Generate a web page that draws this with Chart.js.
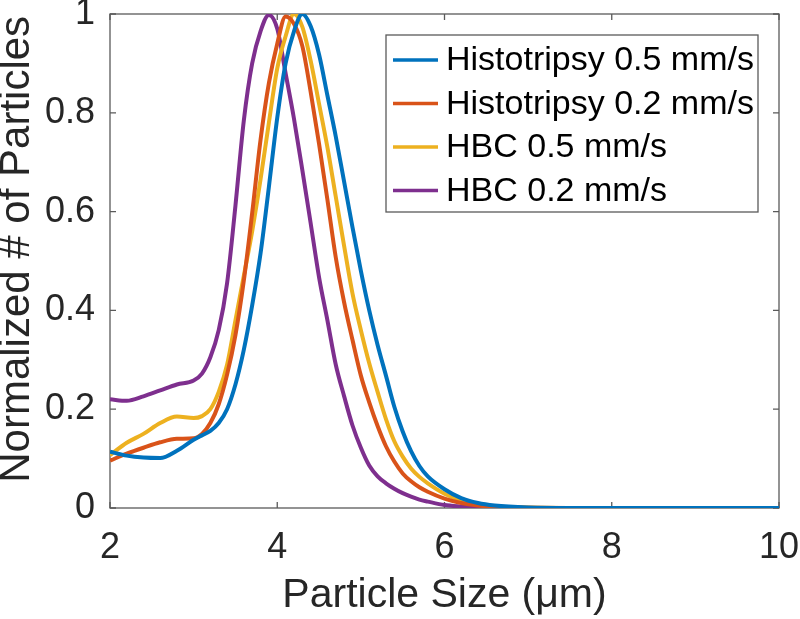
<!DOCTYPE html>
<html>
<head>
<meta charset="utf-8">
<script src="https://cdn.jsdelivr.net/npm/chart.js@4"></script>
<style>
  html, body { margin: 0; padding: 0; background: #ffffff; }
  #wrap { width: 800px; height: 619px; }
</style>
</head>
<body>
<div id="wrap"><canvas id="c" width="800" height="619"></canvas></div>
<script>
// ---------------- data ----------------
const sizes = [2.0,2.2,2.4,2.6,2.8,3.0,3.1,3.2,3.3,3.4,3.5,3.6,3.7,3.8,3.9,4.0,4.1,4.2,4.3,4.4,4.5,4.6,4.7,4.8,4.9,5.0,5.1,5.2,5.3,5.4,5.5,5.6,5.7,5.8,6.0,6.2,6.4,6.6,7.0,7.5,8.0,9.0,10.0];

const histo05 = [0.114,0.106,0.102,0.101,0.116,0.138,0.147,0.156,0.172,0.200,0.250,0.320,0.410,0.515,0.650,0.790,0.900,0.965,1.000,0.975,0.918,0.835,0.752,0.660,0.568,0.480,0.400,0.330,0.268,0.205,0.155,0.115,0.085,0.064,0.038,0.020,0.010,0.005,0.001,0,0,0,0];
const histo02 = [0.096,0.110,0.122,0.133,0.140,0.141,0.150,0.172,0.210,0.270,0.350,0.460,0.597,0.745,0.860,0.940,0.995,0.980,0.935,0.842,0.737,0.624,0.507,0.416,0.340,0.268,0.214,0.166,0.125,0.094,0.070,0.054,0.042,0.033,0.019,0.010,0.005,0.002,0.0005,0,0,0,0];
const hbc05   = [0.107,0.132,0.150,0.172,0.185,0.182,0.186,0.200,0.235,0.290,0.380,0.470,0.560,0.665,0.780,0.890,0.955,1.000,0.974,0.905,0.818,0.730,0.630,0.530,0.434,0.360,0.293,0.235,0.180,0.135,0.104,0.080,0.063,0.050,0.029,0.015,0.007,0.003,0.001,0,0,0,0];
const hbc02   = [0.220,0.217,0.226,0.238,0.250,0.258,0.272,0.305,0.360,0.455,0.612,0.784,0.900,0.965,0.998,0.970,0.880,0.788,0.684,0.576,0.467,0.380,0.290,0.226,0.167,0.122,0.086,0.064,0.050,0.039,0.030,0.023,0.017,0.013,0.006,0.003,0.001,0,0,0,0,0,0];

const seriesNames = ['Histotripsy 0.5 mm/s','Histotripsy 0.2 mm/s','HBC 0.5 mm/s','HBC 0.2 mm/s'];
const xTickValues = [2, 4, 6, 8, 10];
const yTickValues = [0, 0.2, 0.4, 0.6, 0.8, 1];
const yTickLabels = ['0', '0.2', '0.4', '0.6', '0.8', '1'];
const xTitle = 'Particle Size (\u03BCm)';
const yTitle = 'Normalized # of Particles';

// ---------------- styles ----------------
const COLORS = ['#0072BD', '#D95319', '#EDB120', '#7E2F8E'];
const FONT = 'Arial, "Liberation Sans", Helvetica, sans-serif';
const AXIS_COLOR = '#5a5a5a';
const TEXT_COLOR = '#262626';
const TICK_LEN = 6;

const toPoints = (ys) => sizes.map((x, i) => ({ x: x, y: ys[i] }));
const allSeries = [histo05, histo02, hbc05, hbc02];

const datasets = allSeries.map((ys, i) => ({
  label: seriesNames[i],
  data: toPoints(ys),
  borderColor: COLORS[i],
  backgroundColor: COLORS[i],
  borderWidth: 4,
  pointRadius: 0,
  fill: false,
  cubicInterpolationMode: 'monotone'
}));

// box + inward ticks (MATLAB style), drawn below the data lines
const matlabAxes = {
  id: 'matlabAxes',
  beforeDatasetsDraw(chart) {
    const { ctx, chartArea: a, scales: { x, y } } = chart;
    ctx.save();
    ctx.strokeStyle = AXIS_COLOR;
    ctx.lineWidth = 1.3;
    ctx.strokeRect(a.left, a.top, a.right - a.left, a.bottom - a.top);
    ctx.beginPath();
    xTickValues.forEach(v => {
      const px = x.getPixelForValue(v);
      ctx.moveTo(px, a.bottom); ctx.lineTo(px, a.bottom - TICK_LEN);
      ctx.moveTo(px, a.top); ctx.lineTo(px, a.top + TICK_LEN);
    });
    yTickValues.forEach(v => {
      const py = y.getPixelForValue(v);
      ctx.moveTo(a.left, py); ctx.lineTo(a.left + TICK_LEN, py);
      ctx.moveTo(a.right, py); ctx.lineTo(a.right - TICK_LEN, py);
    });
    ctx.stroke();
    ctx.restore();
  }
};

// MATLAB-like boxed legend in the upper right of the axes
const boxLegend = {
  id: 'boxLegend',
  afterDraw(chart) {
    const { ctx, chartArea: a } = chart;
    const boxW = 372, boxH = 177;
    const bx = a.right - 21 - boxW;
    const by = a.top + 21;
    ctx.save();
    ctx.fillStyle = '#ffffff';
    ctx.fillRect(bx, by, boxW, boxH);
    ctx.strokeStyle = AXIS_COLOR;
    ctx.lineWidth = 1.3;
    ctx.strokeRect(bx, by, boxW, boxH);
    ctx.font = '34px ' + FONT;
    ctx.textBaseline = 'middle';
    ctx.textAlign = 'left';
    chart.data.datasets.forEach((ds, i) => {
      const cy = by + 25 + i * 43.5;
      ctx.strokeStyle = ds.borderColor;
      ctx.lineWidth = 3.5;
      ctx.beginPath();
      ctx.moveTo(bx + 7, cy);
      ctx.lineTo(bx + 52, cy);
      ctx.stroke();
      ctx.fillStyle = '#000000';
      ctx.fillText(ds.label, bx + 60, cy + 1);
    });
    ctx.restore();
  }
};

new Chart(document.getElementById('c'), {
  type: 'line',
  data: { datasets: datasets },
  options: {
    responsive: false,
    devicePixelRatio: 1,
    animation: false,
    layout: { padding: { left: 0, right: 21, top: 14, bottom: 0 } },
    plugins: {
      legend: { display: false },
      tooltip: { enabled: false }
    },
    scales: {
      x: {
        type: 'linear',
        min: 2, max: 10,
        afterBuildTicks: (s) => { s.ticks = xTickValues.map(v => ({ value: v })); },
        afterFit: (s) => { s.height = 111; s.paddingLeft = 0; s.paddingRight = 0; },
        grid: { display: false, drawTicks: false },
        border: { display: false },
        ticks: {
          padding: 18,
          color: TEXT_COLOR,
          font: { family: FONT, size: 36 },
          maxRotation: 0,
          callback: (v) => String(v)
        },
        title: {
          display: true,
          text: xTitle,
          color: TEXT_COLOR,
          font: { family: FONT, size: 41, lineHeight: 1 },
          padding: { top: 0, bottom: 3 }
        }
      },
      y: {
        type: 'linear',
        min: 0, max: 1,
        afterBuildTicks: (s) => { s.ticks = yTickValues.map(v => ({ value: v })); },
        afterFit: (s) => { s.width = 110; s.paddingTop = 0; s.paddingBottom = 0; },
        grid: { display: false, drawTicks: false },
        border: { display: false },
        ticks: {
          padding: 15,
          color: TEXT_COLOR,
          font: { family: FONT, size: 36 },
          callback: (v) => { const k = yTickValues.indexOf(v); return k >= 0 ? yTickLabels[k] : ''; }
        },
        title: {
          display: true,
          text: '  ' + yTitle,
          color: TEXT_COLOR,
          font: { family: FONT, size: 42, lineHeight: 0.85 },
          padding: { top: 0, bottom: 0 }
        }
      }
    }
  },
  plugins: [matlabAxes, boxLegend]
});
</script>
</body>
</html>
